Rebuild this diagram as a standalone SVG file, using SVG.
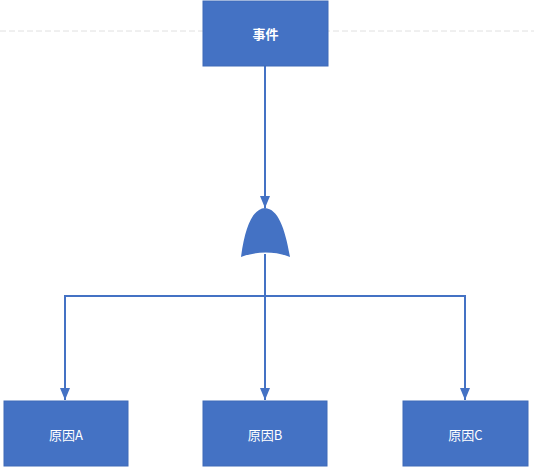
<svg xmlns="http://www.w3.org/2000/svg" width="534" height="468" viewBox="0 0 534 468">
<defs>
<style>
.box{fill:#4472C4;stroke:#3f6bb8;stroke-width:1}
.lbl{fill:#ffffff;font-family:"Noto Sans CJK SC","Liberation Sans",sans-serif;font-size:13px;text-anchor:middle;dominant-baseline:central}
.ln{fill:none;stroke:#4472C4;stroke-width:2}
</style>
<marker id="ah2" viewBox="0 0 12 10" refX="12" refY="5" markerWidth="12" markerHeight="10" markerUnits="userSpaceOnUse" orient="auto"><path d="M0,0 L12,5 L0,10 z" fill="#4472C4"/></marker>
</defs>
<rect width="534" height="468" fill="#ffffff"/>
<line x1="0" y1="31" x2="534" y2="31" stroke="#e0e0e0" stroke-width="1" stroke-dasharray="6,3"/>
<g id="connectors">
<line class="ln" x1="265" y1="66" x2="265" y2="208" marker-end="url(#ah2)"/>
<path class="ln" d="M265,254 L265,400" marker-end="url(#ah2)"/>
<path class="ln" d="M265,296 L65,296 L65,400" marker-end="url(#ah2)"/>
<path class="ln" d="M265,296 L465,296 L465,400" marker-end="url(#ah2)"/>
</g>
<g id="gate">
<path d="M241,257 C245,228 252,209 265,208 C278,209 285,228 290,257 C275,251 256,251 241,257 Z" fill="#4472C4"/>
</g>
<g id="event">
<rect class="box" x="203" y="1" width="125" height="65"/>
<text class="lbl" x="265.5" y="33" font-weight="bold">事件</text>
</g>
<g id="causeA">
<rect class="box" x="4" y="401" width="124" height="65"/>
<text class="lbl" x="66" y="434">原因A</text>
</g>
<g id="causeB">
<rect class="box" x="203" y="401" width="124" height="65"/>
<text class="lbl" x="265" y="434">原因B</text>
</g>
<g id="causeC">
<rect class="box" x="403" y="401" width="125" height="65"/>
<text class="lbl" x="465.5" y="434">原因C</text>
</g>
</svg>
